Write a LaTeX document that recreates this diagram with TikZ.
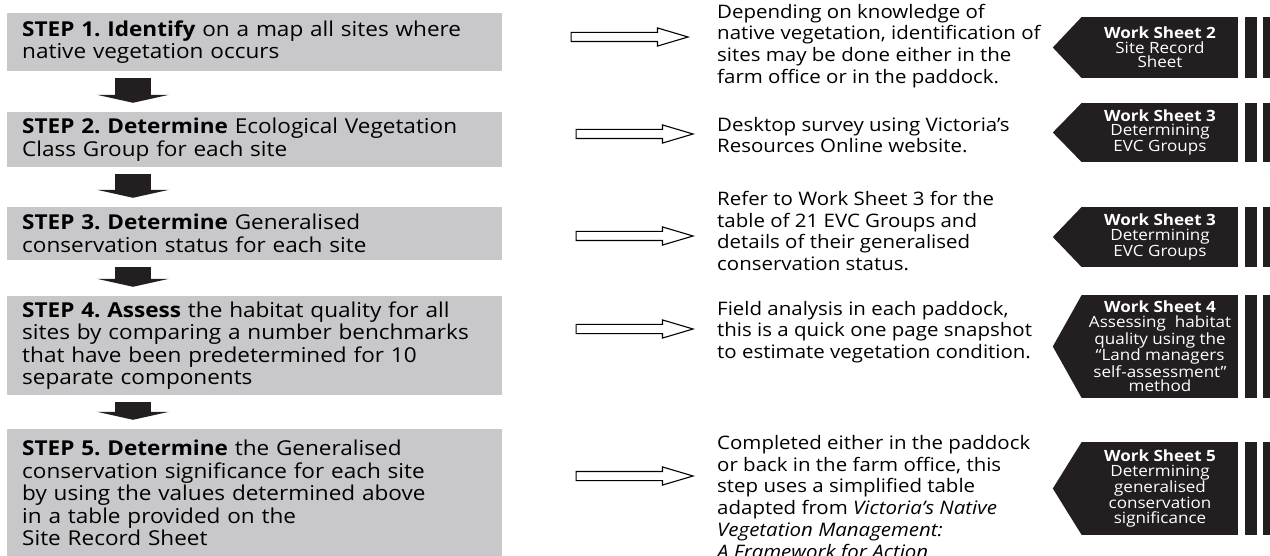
\documentclass[tikz,border=0pt]{standalone}
\usepackage{fontspec}
\setmainfont{Open Sans}[FakeStretch=1.1]
\usetikzlibrary{positioning,calc,shapes.arrows,arrows.meta}
\frenchspacing

\definecolor{stepgray}{RGB}{200,200,202}
\definecolor{tabblack}{RGB}{35,31,32}

\tikzset{
  stepbox/.style={fill=stepgray, anchor=west, minimum width=495pt, text width=465pt,
    inner xsep=15pt, inner ysep=0pt, align=left, font=\fontsize{20.5}{22.5}\selectfont},
  blockarrow/.style={tabblack, line width=36pt, -{Triangle[length=8pt,width=72pt,line width=0pt]}},
  outarrow/.style={single arrow, draw, line width=1.1pt, fill=white, inner xsep=0pt, anchor=tip,
    inner ysep=4pt, single arrow head extend=4.5pt, single arrow tip angle=33, minimum height=117pt},
  desc/.style={anchor=west, inner sep=0pt, align=left, font=\fontsize{18.6}{21.8}\selectfont},
  sheettab/.style={fill=tabblack, text=white, minimum width=156pt, inner sep=0pt,
    align=center, font=\fontsize{15.5}{14.6}\selectfont}
}

\begin{document}
\begin{tikzpicture}[x=1pt,y=-1pt]
 \useasboundingbox (0,0) rectangle (1270,556);

 %Coordinates
 \coordinate (ax) at (133,0);

 %Steps
 \node (s1) [stepbox, minimum height=58pt] at (7,42) {\textbf{STEP 1. Identify} on a map all sites where\\native vegetation occurs};
 \node (s2) [stepbox, minimum height=55pt] at (7,139.5) {\textbf{STEP 2. Determine} Ecological Vegetation\\Class Group for each site};
 \node (s3) [stepbox, minimum height=53pt] at (7,233.5) {\textbf{STEP 3. Determine} Generalised\\conservation status for each site};
 \node (s4) [stepbox, minimum height=99pt] at (7,345.5) {\textbf{STEP 4. Assess} the habitat quality for all\\sites by comparing a number benchmarks\\that have been predetermined for 10\\separate components};
 \node (s5) [stepbox, minimum height=128pt] at (7,493) {\textbf{STEP 5. Determine} the Generalised\\conservation significance for each site\\by using the values determined above\\in a table provided on the\\Site Record Sheet};

 %Descriptions
 \node (d1) [desc] at (717,46) {Depending on knowledge of\\native vegetation, identification of\\sites may be done either in the\\farm office or in the paddock.};
 \node (d2) [desc] at (717,135) {Desktop survey using Victoria’s\\Resources Online website.};
 \node (d3) [desc] at (717,231) {Refer to Work Sheet 3 for the\\table of 21 EVC Groups and\\details of their generalised\\conservation status.};
 \node (d4) [desc] at (717,332) {Field analysis in each paddock,\\this is a quick one page snapshot\\to estimate vegetation condition.};
 \node (d5) [desc] at (717,499) {Completed either in the paddock\\or back in the farm office, this\\step uses a simplified table\\adapted from \textit{Victoria’s Native}\\\textit{Vegetation Management:}\\\textit{A Framework for Action}};

 %Work sheets
 \node (t1) [sheettab, minimum height=61pt] at (1160,47.5) {\textbf{Work Sheet 2}\\Site Record\\Sheet};
 \node (t2) [sheettab, minimum height=59pt] at (1160,132.5) {\textbf{Work Sheet 3}\\Determining\\EVC Groups};
 \node (t3) [sheettab, minimum height=60pt] at (1160,237) {\textbf{Work Sheet 3}\\Determining\\EVC Groups};
 \node (t4) [sheettab, minimum height=103pt] at (1160,346.5) {\textbf{Work Sheet 4}\\Assessing\ \ habitat\\quality using the\\“Land managers\\self-assessment”\\method};
 \node (t5) [sheettab, minimum height=93pt] at (1160,488.5) {\textbf{Work Sheet 5}\\Determining\\generalised\\conservation\\significance};

 \foreach \t in {t1,t2,t3,t4,t5}{
  \fill[tabblack] (\t.north west) -- ($(\t.west)+(-29,0)$) -- (\t.south west) -- cycle;
  \fill[tabblack] ($(\t.north east)+(7,0)$) rectangle ($(\t.south east)+(19,0)$);
  \fill[tabblack] ($(\t.north east)+(25,0)$) rectangle ($(\t.south east)+(40,0)$);
 }

 %Arrows
 \foreach \a/\b in {s1/s2,s2/s3,s3/s4,s4/s5}
  \draw[blockarrow] ($(\a.south -| ax)+(0,7)$) -- ($(\b.north -| ax)+(0,-9)$);

 \node (a1) [outarrow] at (690,37) {};
 \foreach \n/\y in {2/134,3/236,4/329,5/476}
  \node (a\n) [outarrow] at (695,\y) {};

\end{tikzpicture}
\end{document}
